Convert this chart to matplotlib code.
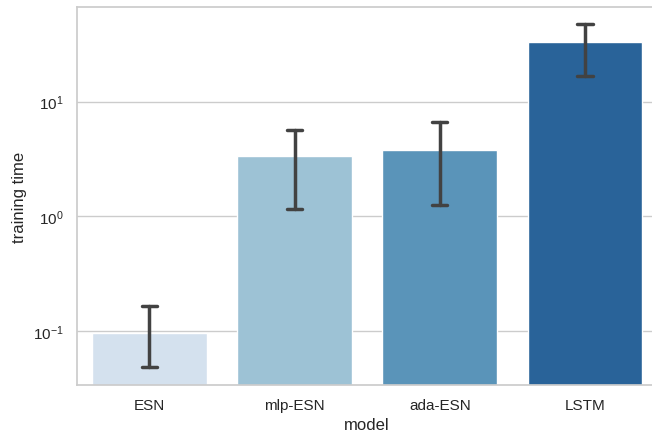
import numpy as np
import matplotlib
matplotlib.use("Agg")
import matplotlib.pyplot as plt
import seaborn as sns

models = ["ESN", "mlp-ESN", "ada-ESN", "LSTM"]
mean_time = [0.0966, 3.34, 3.80, 33.0]
ci_low = [0.0482, 1.16, 1.25, 16.7]
ci_high = [0.166, 5.70, 6.61, 47.5]

sns.set_theme(style="whitegrid")
plt.rcParams["font.family"] = ["Liberation Sans", "DejaVu Sans"]

fig = plt.figure(figsize=(6.52, 4.39), dpi=100)
# the axes run past the right edge of the canvas
ax = fig.add_axes([0.1176, 0.1214, 0.891, 0.8597])

colors = sns.color_palette("Blues", len(models), desat=0.75)
x = np.arange(len(models))
ax.bar(x, mean_time, width=0.79, color=colors, zorder=2)

# confidence intervals with caps
cap = 0.052
for xi, lo, hi in zip(x, ci_low, ci_high):
    ax.plot([xi, xi], [lo, hi], color=".26", lw=2.5, solid_capstyle="round", zorder=3)
    for yv in (lo, hi):
        ax.plot([xi - cap, xi + cap], [yv, yv], color=".26", lw=2.5,
                solid_capstyle="round", zorder=3)

ax.set_yscale("log")
ax.set_ylim(0.034, 66.5)
ax.set_xlim(-0.5, 3.5)
ax.set_xticks(x)
ax.set_xticklabels(models)
ax.grid(axis="x", visible=False)
ax.grid(axis="y", which="minor", visible=False)
ax.tick_params(axis="both", labelsize=11)
ax.set_xlabel("model", fontsize=12)
ax.set_ylabel("training time", fontsize=12)

fig.savefig("out.png", dpi=100)
